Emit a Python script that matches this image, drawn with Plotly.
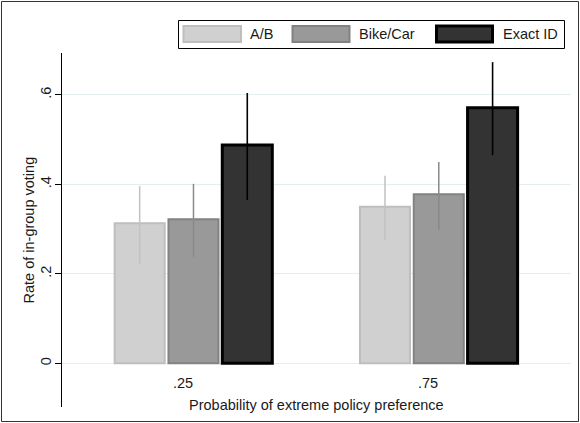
import plotly.graph_objects as go

# ---------------- data ----------------
categories = [".25", ".75"]
series_names = ["A/B", "Bike/Car", "Exact ID"]
ab_values = [0.313, 0.350]
ab_lo = [0.221, 0.276]
ab_hi = [0.396, 0.419]
bike_values = [0.322, 0.378]
bike_lo = [0.238, 0.298]
bike_hi = [0.401, 0.450]
exact_values = [0.488, 0.571]
exact_lo = [0.365, 0.465]
exact_hi = [0.604, 0.673]
y_ticks = [0, 0.2, 0.4, 0.6]
y_tick_labels = ["0", ".2", ".4", ".6"]

# ---------------- style ----------------
fills = ["#d0d0d0", "#999999", "#333333"]
outlines = ["#bebebe", "#828282", "#000000"]
outline_w = [2, 2, 3]
err_colors = ["#c2c2c2", "#8a8a8a", "#000000"]
err_w = [1.5, 1.5, 1.6]
FONT = "Liberation Sans, Arial, Helvetica, sans-serif"
TXT = "#1a1a1a"
FS = 14.5

W, H = 580, 423
L, R, T, B = 62, 9, 53, 16
PW, PH = W - L - R, H - T - B


def px(xp):
    return (xp - L) / PW


def py(yp):
    return (H - B - yp) / PH


series = [
    (ab_values, ab_lo, ab_hi),
    (bike_values, bike_lo, bike_hi),
    (exact_values, exact_lo, exact_hi),
]

fig = go.Figure()
for i, (vals, lo, hi) in enumerate(series):
    fig.add_trace(go.Bar(
        x=categories, y=vals, name=series_names[i],
        marker=dict(color=fills[i], line=dict(color=outlines[i], width=outline_w[i])),
        error_y=dict(type="data", symmetric=False,
                     array=[h - v for h, v in zip(hi, vals)],
                     arrayminus=[v - l for v, l in zip(vals, lo)],
                     color=err_colors[i], thickness=err_w[i], width=0),
        showlegend=False,
    ))

fig.update_layout(
    width=W, height=H,
    margin=dict(l=L, r=R, t=T, b=B, autoexpand=False),
    paper_bgcolor="white", plot_bgcolor="white",
    barmode="group", bargap=0.342, bargroupgap=0.07,
    font=dict(family=FONT, size=FS, color=TXT),
    showlegend=False,
)
fig.update_xaxes(type="category", range=[-0.536, 1.539], showticklabels=False,
                 showgrid=False, showline=False, zeroline=False, ticks="")
fig.update_yaxes(range=[-0.0977, 0.6934], tickvals=y_ticks, ticktext=y_tick_labels,
                 tickangle=-90, ticks="outside", ticklen=6, tickcolor="#000",
                 ticklabelstandoff=-2,
                 showline=True, linecolor="#000", linewidth=1,
                 showgrid=True, gridcolor="#e4eef0", gridwidth=1, zeroline=False,
                 tickfont=dict(family=FONT, size=FS, color=TXT))

annotations = []
# category labels (x given as category index)
for idx, c in enumerate(categories):
    annotations.append(dict(x=idx, y=py(382.5), xref="x", yref="paper", text=c,
                            showarrow=False, xshift=-10.5, xanchor="center", yanchor="middle",
                            font=dict(size=FS, color=TXT, family=FONT)))
# axis titles
annotations.append(dict(x=px(316), y=py(405), xref="paper", yref="paper",
                        text="Probability of extreme policy preference", showarrow=False,
                        xanchor="center", yanchor="middle",
                        font=dict(size=FS, color=TXT, family=FONT)))
annotations.append(dict(x=px(28), y=py(230.5), xref="paper", yref="paper",
                        text="Rate of in-group voting", showarrow=False, textangle=-90,
                        xanchor="center", yanchor="middle",
                        font=dict(size=FS, color=TXT, family=FONT)))

shapes = []
# outer frame
shapes.append(dict(type="rect", xref="paper", yref="paper",
                   x0=px(1.5), x1=px(578.5), y0=py(421.5), y1=py(1.5),
                   line=dict(color="#333333", width=1), fillcolor="rgba(0,0,0,0)", layer="above"))
# legend box
shapes.append(dict(type="rect", xref="paper", yref="paper",
                   x0=px(178.5), x1=px(564.5), y0=py(48.5), y1=py(20.5),
                   line=dict(color="#000000", width=1), fillcolor="white", layer="above"))
swatch_x = [(183.5, 241), (292.5, 349.5), (436.5, 492.5)]
text_x = [248, 357, 501]
for i in range(3):
    x0, x1 = swatch_x[i]
    shapes.append(dict(type="rect", xref="paper", yref="paper",
                       x0=px(x0), x1=px(x1), y0=py(42), y1=py(26),
                       line=dict(color=outlines[i], width=outline_w[i]),
                       fillcolor=fills[i], layer="above"))
    annotations.append(dict(x=px(text_x[i]), y=py(34), xref="paper", yref="paper",
                            text=series_names[i], showarrow=False,
                            xanchor="left", yanchor="middle",
                            font=dict(size=FS, color=TXT, family=FONT)))

fig.update_layout(shapes=shapes, annotations=annotations)
fig.write_html(
    "out.html",
    config={"displayModeBar": False},
    post_script="document.body.style.margin='0';document.body.style.padding='0';"
                "document.documentElement.style.overflow='hidden';",
)
